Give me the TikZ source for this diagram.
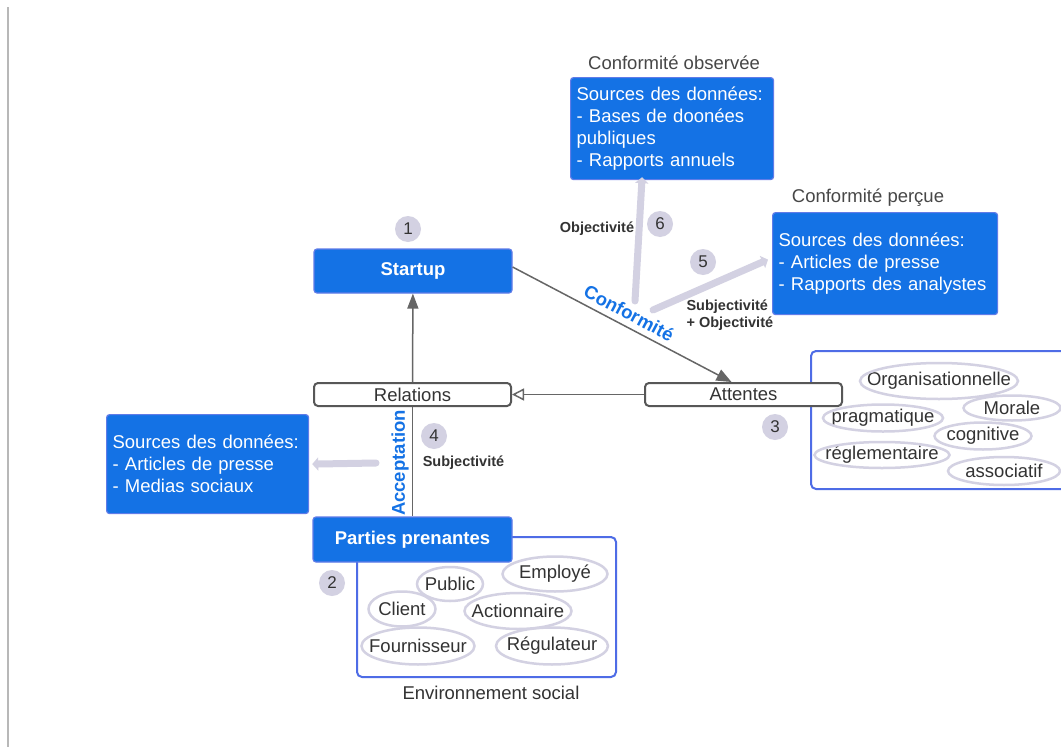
\documentclass[tikz,border=0pt]{standalone}
\usepackage{fontspec}
\setmainfont{Liberation Sans}
\usepackage{tikz}
\usetikzlibrary{shapes.geometric,arrows.meta}

\definecolor{bleu}{RGB}{20,114,229}
\definecolor{bleubord}{RGB}{96,124,232}
\definecolor{cadre}{RGB}{78,108,230}
\definecolor{lavande}{RGB}{211,209,226}
\definecolor{gris}{RGB}{102,102,102}
\definecolor{texte}{RGB}{51,51,51}

\tikzset{
	txt/.style={font=\fontsize{18.5}{22}\selectfont},
	petit/.style={font=\fontsize{14.5}{17}\selectfont\bfseries, text=texte},
	source/.style={txt, rectangle, rounded corners=3pt, fill=bleu, draw=bleubord, line width=1.2pt,
		text=white, align=left, anchor=north west, inner xsep=6pt, inner ysep=0pt},
	acteur/.style={rectangle, rounded corners=3pt, fill=bleu, draw=bleubord, line width=1.2pt,
		text=white, font=\fontsize{18.5}{22}\selectfont\bfseries, inner sep=0pt},
	etiq/.style={txt, rectangle, rounded corners=4pt, draw=gris!85!black, line width=2pt, fill=white,
		text=texte, minimum width=197pt, minimum height=23pt, inner sep=0pt},
	groupe/.style={rectangle, rounded corners=5pt, draw=cadre, line width=2pt, fill=white,
		anchor=north west, inner sep=0pt},
	mot/.style={txt, text=texte, inner sep=0pt},
	bulle/.style={draw=lavande, line width=2.5pt},
	num/.style={circle, fill=lavande, text=texte, minimum size=26pt, inner sep=0pt,
		font=\fontsize{17}{17}\selectfont},
	fleche/.style={draw=gris, line width=1.5pt},
	lav/.style={draw=lavande, line width=7pt, line cap=round, -{Triangle[length=6pt,width=13pt]}},
}

\begin{document}
\begin{tikzpicture}[x=1pt,y=-1pt]
	\clip (0,0) rectangle (1061,747);
	\fill[white] (0,0) rectangle (1061,747);
	\draw[black!28, line width=1.5pt] (8,7) -- (8,747);

	% groupes
	\node[groupe, minimum width=270pt, minimum height=138pt] (attgroupe) at (810,350) {};
	\node[groupe, minimum width=259pt, minimum height=140pt] (envgroupe) at (356,536) {};

	% boites principales
	\node[acteur, minimum width=198pt, minimum height=44pt] (startup) at (413,271) {Startup};
	\node[acteur, minimum width=199pt, minimum height=45pt] (parties) at (412.5,539.5) {Parties prenantes};
	\node[etiq] (relations) at (412.5,394.5) {Relations};
	\node[etiq] (attentes) at (743.5,394.5) {Attentes};

	% sources
	\node[source, minimum width=203pt, minimum height=102pt, text width=191pt] (obs) at (570,77)
		{Sources des données:\\- Bases de doonées\\publiques\\- Rapports annuels};
	\node[source, minimum width=225pt, minimum height=102pt, text width=213pt] (percue) at (772,212)
		{Sources des données:\\- Articles de presse\\- Rapports des analystes};
	\node[source, minimum width=202pt, minimum height=99pt, text width=190pt] (medias) at (106,414)
		{Sources des données:\\- Articles de presse\\- Medias sociaux};

	\node[txt, text=texte!90] (tobs) at (674,63) {Conformité observée};
	\node[txt, text=texte!90] (tperc) at (868,198) {Conformité perçue};
	\node[txt, text=texte] (tenv) at (491,693) {Environnement social};

	% legitimites
	\node[mot] (org) at (939,381) {Organisationnelle};
	\node[mot] (morale) at (1012,408) {Morale};
	\node[mot] (prag) at (883,418) {pragmatique};
	\node[mot] (cogn) at (983,436) {cognitive};
	\node[mot] (regl) at (882,455) {réglementaire};
	\node[mot] (assoc) at (1004,471) {associatif};

	% parties prenantes
	\node[mot] (public) at (450,584) {Public};
	\node[mot] (employe) at (555,574) {Employé};
	\node[mot] (client) at (402,609) {Client};
	\node[mot] (action) at (518,611) {Actionnaire};
	\node[mot] (fourn) at (418,646) {Fournisseur};
	\node[mot] (regul) at (552,646) {Régulateur};

	\foreach \n/\rx/\ry in {org/79/18, morale/48.5/12.5, prag/60/13.5, cogn/48.5/13.5, regl/67.5/13,
		assoc/56/14, public/33/17, employe/52.5/17.5, client/33.5/17.5, action/53.5/18,
		fourn/56.5/18.5, regul/56/18.5}
		\draw[bulle] (\n.center) ellipse [x radius=\rx, y radius=\ry];

	% numeros
	\node[num] (n1) at (408,229) {1};
	\node[num] (n2) at (332,583) {2};
	\node[num] (n3) at (775,427) {3};
	\node[num] (n4) at (434,436) {4};
	\node[num] (n5) at (703,262) {5};
	\node[num] (n6) at (660,224) {6};

	% liens
	\draw[fleche, -{Triangle[length=15pt,width=11pt]}] (relations) -- (startup);
	\draw[fleche, -{Triangle[open,length=12pt,width=12pt,fill=white]}] (attentes) -- (relations);
	\draw[fleche] (relations) -- (parties);
	\draw[fleche, -{Triangle[length=15pt,width=12pt]}] ([yshift=4pt]startup.east) -- ([xshift=-12pt]attentes.north);

	\node[font=\fontsize{18.5}{22}\selectfont\bfseries, text=bleu, rotate=-28] (conf) at (629,313) {Conformité};
	\node[font=\fontsize{18.5}{22}\selectfont\bfseries, text=bleu, rotate=90] (accept) at (400,463) {Acceptation};

	% fleches des donnees
	\coordinate (d6) at (635,301);
	\coordinate (d5) at (653,310);
	\coordinate (d4) at (376,463);
	\draw[lav] (d6) -- ([xshift=-30pt,yshift=3pt]obs.south);
	\draw[lav] (d5) -- ([xshift=-4pt,yshift=4pt]percue.west);
	\draw[lav] (d4) -- ([xshift=3pt]medias.east);

	\node[petit] (lobj) at (597,229) {Objectivité};
	\node[petit] (lsubj) at (463.5,463) {Subjectivité};
	\node[petit, align=left, anchor=west] (lsubobj) at (683,315) {Subjectivité\\+ Objectivité};

\end{tikzpicture}
\end{document}
